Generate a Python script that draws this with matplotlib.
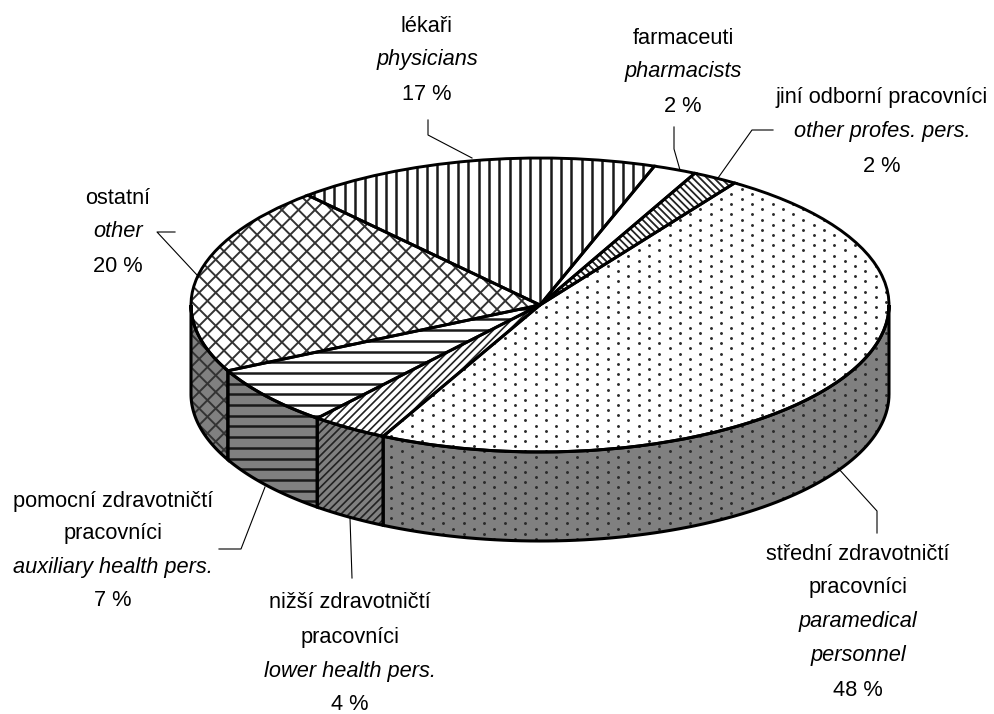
import numpy as np
import matplotlib
matplotlib.use('Agg')
import matplotlib.pyplot as plt
from matplotlib.collections import LineCollection
from matplotlib.patches import Polygon
from matplotlib.transforms import IdentityTransform

plt.rcParams['font.family'] = ['Liberation Sans']

# shares in percent, clockwise from the boundary ostatni/lekari
# (printed labels are rounded, these are read from the slice angles)
names = ['physicians', 'pharmacists', 'other_prof', 'paramedical', 'lower', 'auxiliary', 'other']
shares = [16.9, 2.0, 2.1, 48.0, 3.6, 6.6, 20.8]
hatches = ['vert', None, 'back', 'dots', 'fwd', 'horiz', 'cross']
start_angle = 131.7

W, H = 994, 714
CX, CY, RX, RY, DEPTH = 540, 305, 349, 147, 89


def px(x, y):
    # reference pixel -> data coords of the unit pie
    return (x - CX) / RX, (CY - y) / RY


def hatch_lines(ax, clip, angle, spacing, lw=1.5, color='#1a1a1a'):
    # stripes in display space, so the ellipse scaling doesnt squash them
    a = np.deg2rad(angle)
    d = np.array([np.cos(a), np.sin(a)])
    n = np.array([-d[1], d[0]])
    c = np.array([W / 2, H / 2])
    L = 1300
    segs = []
    for k in np.arange(-L, L, spacing):
        segs.append([c + n * k - d * L, c + n * k + d * L])
    lc = LineCollection(segs, colors=color, linewidths=lw, transform=IdentityTransform(), zorder=5)
    ax.add_collection(lc, autolim=False)
    lc.set_clip_path(clip)


def hatch_dots(ax, clip, dx=20.6, dy=5.15):
    xs, ys = [], []
    for j, y in enumerate(np.arange(0, H, dy)):
        off = dx / 2 if j % 2 else 0
        for x in np.arange(off, W, dx):
            xs.append(x)
            ys.append(y)
    sc = ax.scatter(xs, ys, s=4.4, color='#2a2a2a', linewidths=0, transform=IdentityTransform(), zorder=5)
    sc.set_clip_path(clip)


def apply_hatch(ax, clip, kind):
    if kind == 'vert':
        hatch_lines(ax, clip, 90, 10.3, lw=1.8)
    elif kind == 'horiz':
        hatch_lines(ax, clip, 0, 10.7, lw=1.8)
    elif kind == 'fwd':
        hatch_lines(ax, clip, 45, 5.6, lw=1.2, color='#222222')
    elif kind == 'back':
        hatch_lines(ax, clip, -45, 5.0, lw=1.3, color='#222222')
    elif kind == 'cross':
        hatch_lines(ax, clip, 45, 11.7, lw=1.4, color='#333333')
        hatch_lines(ax, clip, -45, 11.7, lw=1.4, color='#333333')
    elif kind == 'dots':
        hatch_dots(ax, clip)


fig = plt.figure(figsize=(W / 100, H / 100), dpi=100)
ax = fig.add_axes([0, 0, 1, 1])

# side wall, only the front half of each slice can be seen
edges = start_angle - np.cumsum([0] + shares) * 3.6
for i, kind in enumerate(hatches):
    hi, lo = edges[i], edges[i + 1]
    for shift in (0, 360):
        h2 = min(hi + shift, 0)
        l2 = max(lo + shift, -180)
        if h2 <= l2:
            continue
        t = np.deg2rad(np.linspace(h2, l2, 80))
        x = np.cos(t)
        y = np.sin(t)
        d = DEPTH / RY
        pts = np.r_[np.c_[x, y], np.c_[x, y - d][::-1]]
        wall = Polygon(pts, closed=True, facecolor='#808080', edgecolor='none', zorder=1)
        ax.add_patch(wall)
        apply_hatch(ax, wall, kind)
        ax.add_patch(Polygon(pts, closed=True, facecolor='none', edgecolor='black', linewidth=2.2, zorder=6))

# top of the pie: white faces, stripes clipped on them, then the outlines
faces, _ = ax.pie(shares, startangle=start_angle, counterclock=False, radius=1,
                  colors=['white'] * len(shares), wedgeprops={'linewidth': 0, 'zorder': 4})
for w, kind in zip(faces, hatches):
    if kind:
        apply_hatch(ax, w, kind)
ax.pie(shares, startangle=start_angle, counterclock=False, radius=1,
       colors=['none'] * len(shares), wedgeprops={'linewidth': 2.1, 'edgecolor': 'black', 'zorder': 7})

ax.set_aspect('auto')
x0, y1 = px(0, 0)
x1, y0 = px(W, H)
ax.set_xlim(x0, x1)
ax.set_ylim(y0, y1)
ax.axis('off')

# leader lines, reference pixels
leaders = [
    [(428, 120), (428, 135), (472, 158)],
    [(674, 127), (674, 149), (680, 170)],
    [(773, 130), (752, 130), (718, 178)],
    [(175, 232), (157, 232), (197, 275)],
    [(219, 549), (241, 549), (265, 487)],
    [(352, 578), (350, 518)],
    [(838, 468), (877, 511), (877, 533)],
]
for pts in leaders:
    xy = np.array([px(*p) for p in pts])
    ax.plot(xy[:, 0], xy[:, 1], color='black', lw=0.8, zorder=8)

# label lines: text, italic?
labels = [
    (427, [(26, 'lékaři', 0), (60, 'physicians', 1), (94, '17 %', 0)]),
    (683, [(38, 'farmaceuti', 0), (71, 'pharmacists', 1), (106, '2 %', 0)]),
    (882, [(98, 'jiní odborní pracovníci', 0), (132, 'other profes. pers.', 1), (166, '2 %', 0)]),
    (118, [(198, 'ostatní', 0), (232, 'other', 1), (266, '20 %', 0)]),
    (113, [(501, 'pomocní zdravotničtí', 0), (534, 'pracovníci', 0), (568, 'auxiliary health pers.', 1), (601, '7 %', 0)]),
    (350, [(603, 'nižší zdravotničtí', 0), (637, 'pracovníci', 0), (671, 'lower health pers.', 1), (704, '4 %', 0)]),
    (858, [(554, 'střední zdravotničtí', 0), (588, 'pracovníci', 0), (621, 'paramedical', 1), (656, 'personnel', 1), (691, '48 %', 0)]),
]
for x, lines in labels:
    for y, txt, it in lines:
        fig.text(x / W, 1 - y / H, txt, ha='center', va='center', fontsize=15.7,
                 style='italic' if it else 'normal', color='black')

fig.savefig('out.png', dpi=100)
